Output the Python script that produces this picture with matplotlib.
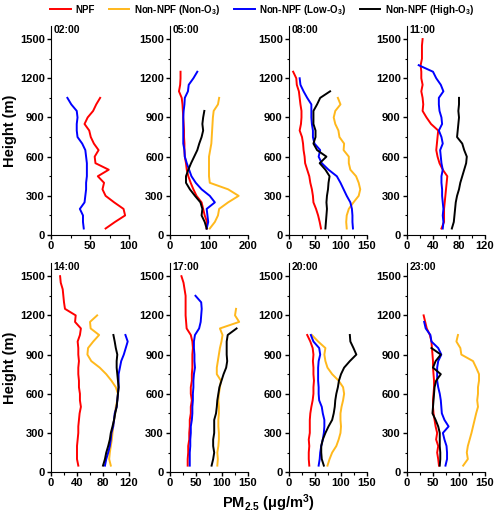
import matplotlib as mpl
mpl.use('Agg')
import matplotlib.pyplot as plt
from matplotlib.ticker import MultipleLocator

plt.rcParams['font.family'] = ['Liberation Sans', 'DejaVu Sans']
plt.rcParams['font.weight'] = 'bold'
plt.rcParams['mathtext.fontset'] = 'custom'
plt.rcParams['mathtext.rm'] = 'Liberation Sans:bold'
plt.rcParams['mathtext.default'] = 'rm'

# height levels (m), every profile starts at the lowest level
heights = [50, 100, 150, 200, 250, 300, 350, 400, 450, 500,
           550, 600, 650, 700, 750, 800, 850, 900, 950, 1000,
           1050, 1100, 1150, 1200, 1250, 1300, 1350, 1400, 1450, 1500]

series_names = ['NPF', 'Non-NPF (Non-O$_3$)', 'Non-NPF (Low-O$_3$)', 'Non-NPF (High-O$_3$)']
series_colors = ['#FF0000', '#FFB81C', '#0000FF', '#000000']

panel_titles = ['02:00', '05:00', '08:00', '11:00', '14:00', '17:00', '20:00', '23:00']
panel_xmax = [100, 200, 150, 120, 120, 150, 150, 150]
panel_xstep = [50, 100, 50, 40, 40, 50, 50, 50]

# PM2.5 profiles (ug/m3), None = no profile
npf = [
    [70, 82, 95, 93, 81, 70, 66, 68, 60, 74, 57, 56, 61, 55, 51, 49, 43, 47, 54, 58, 63],
    [94, 95, 89, 85, 81, 68, 60, 53, 47, 43, 41, 38, 37, 37, 36, 36, 35, 34, 33, 32, 30, 23, 26, 27, 27],
    [61.5, 59, 56, 52, 47, 46, 44, 41, 39, 35, 31, 30, 28, 27, 25, 20.5, 23, 24, 24, 22, 20.5, 19, 15, 14, 8],
    [53, 57, 57, 57, 58, 59, 60, 61, 62, 55, 50, 47, 45, 46, 47, 48, 37, 30, 24, 25, 24, 22, 24, 22, 22, 21, 23, 23, 23, 24],
    [42, 40, 40, 40, 41, 42, 42, 43, 44, 46, 44.5, 44.5, 43, 43, 42, 42, 43, 42, 42, 41, 44.5, 46, 37, 38, 21.5, 20, 19, 18, 15, 14],
    [34, 34, 35, 35, 37, 37, 38, 38, 40, 40, 42, 40, 40, 42, 42, 43, 43, 43, 44, 43, 40, 32, 31, 30, 30, 30, 30, 28, 26, 22],
    [39, 38, 38, 39, 38, 40, 40, 40, 41, 43, 45.5, 47, 47, 48, 47, 47, 46, 47, 45.5, 41, 35],
    [61.5, 60, 58, 60, 56, 58, 55, 53, 51, 50, 50, 51, 52, 52, 51, 50, 50, 49, 48, 47, 44, 38, 35, 32],
]
non_o3 = [
    None,
    [102, 115, 123, 126, 149, 176, 149, 102, 100, 100, 100, 100, 103, 106, 107, 108, 109, 110, 112, 123, 126],
    [111, 110, 111, 115, 124, 134, 137, 134, 129, 118, 115, 115, 105, 106, 97, 95, 89, 86, 89, 99, 94],
    None,
    [92, 89.5, 90.5, 92, 93.6, 94.6, 95.7, 97, 98.7, 99.7, 102, 103, 99.7, 93, 85, 75, 62, 56, 57, 65, 74, 61, 60, 71],
    [91, 92, 91, 93, 94, 94, 93, 93, 94, 94, 93, 94, 96, 98, 90, 90, 92, 94, 96, 99, 101, 96, 133, 125, 127],
    [74, 78, 83, 91, 95.5, 99, 100, 99, 99, 101, 104, 106, 104, 95.5, 83, 74, 70, 68, 70, 56, 44],
    [108, 117, 115, 117, 120.5, 124, 127, 130, 133, 136.5, 135, 136.5, 136.5, 138.5, 138.5, 133, 127, 104.5, 102.6, 95, 98],
]
low_o3 = [
    [42, 41, 41, 37, 43, 44, 45, 45, 46, 46, 46, 45, 44, 40, 34, 33, 33, 34, 33, 26, 21],
    [94, 98, 96, 94, 115, 102, 81, 66, 55, 49, 43, 38, 37, 34, 34, 34, 34, 34, 35, 37, 38, 46, 48, 60, 70],
    [123, 122, 122, 121, 118, 111, 105, 99, 92, 76, 63, 57, 60, 49, 46, 46, 44, 43, 43, 43, 35, 28, 22, 20.5],
    [55, 56, 55, 56, 55, 54, 54, 53, 53, 55, 53, 52, 51, 55, 53, 49, 54, 53, 50, 49, 49, 56, 52, 45, 40, 18],
    [83, 85, 88, 90.5, 92, 93, 95.7, 97, 98, 101, 102, 103, 104, 104, 104, 106, 108, 112, 115, 118, 114.5],
    [38, 38, 38, 39, 39, 40, 40, 42, 43, 43, 44, 44, 45, 45, 46, 48, 47, 47, 46, 46, 48, 56, 59, 60, 61, 60, 49],
    [57, 59, 60, 62, 65, 67, 68, 68, 65, 63, 58, 57, 57, 56, 56, 56, 57, 60, 58, 47, 42],
    [74, 77, 77, 76, 72, 69, 80, 72, 67, 66, 65, 63, 60, 58, 58, 58, 60, 66, 60, 47, 45, 36, 33],
]
high_o3 = [
    None,
    [94, 89, 81, 83, 78, 64, 51, 41, 41, 47, 54, 62, 70, 75, 81, 85, 83, 85, 88],
    [70, 71, 72, 73, 72, 73, 75, 76, 78, 70, 59, 72, 54, 47, 51, 51, 47, 47, 47, 54, 60, 79],
    [69, 72, 73, 74, 75, 77, 80, 82, 85, 88, 91, 92, 88, 85, 77, 78, 79, 80, 79, 80, 80],
    [80, 83, 85, 88, 90.5, 92, 94.6, 97, 98.7, 101, 102, 103, 104, 103, 102, 101, 101, 102, 99.7, 98, 96],
    [80, 83, 85, 83, 83, 85, 85, 85, 88.5, 90, 91, 93, 95, 99, 103, 108, 110, 109, 109, 109, 111, 128],
    [67, 63, 62, 62, 65, 70, 76, 83, 86, 88, 89, 91, 94, 96, 100, 106, 117, 129.5, 124, 118, 117],
    [63, 64, 64, 63, 63, 63, 60, 55, 49, 50, 51, 52, 53, 56, 65, 50, 55, 65, 47],
]

all_series = [npf, non_o3, low_o3, high_o3]

fig = plt.figure(figsize=(5.0, 5.2), dpi=100)
lefts = [0.102, 0.34, 0.578, 0.814]
bottoms = [0.548, 0.092]

handles = []
for k in range(8):
    row, col = k // 4, k % 4
    ax = fig.add_axes([lefts[col], bottoms[row], 0.156, 0.402])
    for s in range(4):
        vals = all_series[s][k]
        if vals is None:
            continue
        line, = ax.plot(vals, heights[:len(vals)], color=series_colors[s], lw=1.4)
        if k == 1:
            handles.append(line)
    ax.set_xlim(0, panel_xmax[k])
    ax.set_ylim(0, 1600)
    ax.xaxis.set_major_locator(MultipleLocator(panel_xstep[k]))
    ax.xaxis.set_minor_locator(MultipleLocator(panel_xstep[k] / 2))
    ax.yaxis.set_major_locator(MultipleLocator(300))
    ax.yaxis.set_minor_locator(MultipleLocator(150))
    for side in ['top', 'right']:
        ax.spines[side].set_visible(False)
    ax.tick_params(which='major', direction='out', length=3, width=1, labelsize=8, pad=1.5)
    ax.tick_params(which='minor', direction='out', length=1.8, width=0.8)
    for lab in ax.get_xticklabels() + ax.get_yticklabels():
        lab.set_fontweight('bold')
    ax.text(0.03, 1.005, panel_titles[k], transform=ax.transAxes,
            fontsize=7.5, fontweight='bold', va='top', ha='left')
    if col == 0:
        ax.set_ylabel('Height (m)', fontsize=10.5, fontweight='bold', labelpad=2)

fig.legend(handles, series_names, loc='upper center', bbox_to_anchor=(0.525, 1.012),
           ncol=4, frameon=False, prop={'size': 7, 'weight': 'bold'},
           handlelength=2.1, columnspacing=1.4, handletextpad=0.5)

fig.text(0.536, 0.012, 'PM$_{2.5}$ (\u03bcg/m$^3$)', ha='center', va='bottom',
         fontsize=10.5, fontweight='bold')

fig.savefig('out.png', dpi=100)
